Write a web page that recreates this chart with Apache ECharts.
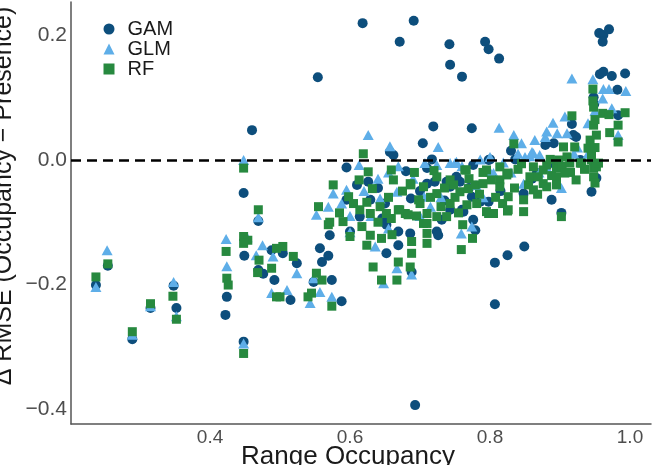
<!DOCTYPE html>
<html>
<head>
<meta charset="utf-8">
<script src="https://cdn.jsdelivr.net/npm/echarts@6/dist/echarts.min.js"></script>
<style>
html,body{margin:0;padding:0;background:#fff;}
#chart{width:654px;height:465px;}
</style>
</head>
<body>
<div id="chart"></div>
<script>
const seriesNames = ['GAM', 'GLM', 'RF'];
const xTicks = [0.4, 0.6, 0.8, 1.0];
const yTicks = [-0.4, -0.2, 0.0, 0.2];

const gam = [
[0.237,-0.201],[0.254,-0.170],[0.289,-0.288],[0.315,-0.238],[0.348,-0.202],[0.352,-0.238],
[0.424,-0.220],[0.422,-0.249],[0.448,-0.053],[0.449,-0.154],[0.448,-0.292],[0.460,0.048],
[0.469,-0.098],[0.469,-0.177],[0.476,-0.183],[0.488,-0.145],[0.492,-0.193],
[0.504,-0.150],[0.524,-0.166],[0.515,-0.225],
[0.554,0.133],[0.557,-0.142],[0.569,-0.154],[0.560,-0.164],[0.548,-0.196],[0.574,-0.193],[0.588,-0.227],[0.571,-0.121],
[0.595,-0.012],[0.595,-0.064],[0.614,-0.091],[0.629,-0.064],[0.626,-0.035],[0.618,0.220],[0.600,-0.115],[0.640,-0.045],[0.610,-0.040],[0.650,-0.070],
[0.646,-0.094],[0.652,-0.104],[0.652,-0.150],[0.657,0.013],[0.662,0.008],[0.671,0.190],
[0.669,-0.115],[0.686,-0.118],[0.669,-0.137],[0.687,-0.062],[0.680,-0.018],[0.688,-0.180],
[0.691,0.224],[0.693,-0.394],[0.700,-0.050],[0.704,0.027],[0.710,-0.013],[0.717,0.001],[0.719,0.054],[0.724,-0.115],[0.726,-0.121],
[0.710,-0.038],[0.721,-0.035],[0.731,-0.096],[0.735,-0.065],
[0.738,-0.035],[0.743,-0.080],[0.742,0.186],[0.743,0.153],[0.760,0.134],[0.760,-0.080],[0.757,-0.035],[0.752,-0.027],[0.743,-0.043],
[0.774,0.051],[0.776,-0.008],[0.779,-0.113],[0.774,-0.059],[0.762,-0.083],[0.770,-0.045],
[0.786,-0.067],[0.776,-0.096],[0.793,0.190],[0.798,0.178],[0.813,0.163],[0.800,0.001],[0.798,-0.067],[0.798,0.000],[0.815,-0.050],
[0.807,-0.232],[0.807,-0.165],[0.825,-0.153],[0.849,-0.139],[0.836,0.001],[0.830,0.015],[0.848,-0.054],[0.867,-0.021],[0.860,-0.030],
[0.879,0.024],[0.891,0.027],[0.888,-0.064],[0.890,-0.005],[0.902,-0.085],[0.917,0.058],[0.919,0.040],[0.923,0.037],[0.929,0.000],[0.945,-0.051],[0.952,-0.029],
[0.948,0.101],[0.949,0.090],[0.956,0.204],[0.962,0.201],[0.970,0.210],[0.961,0.190],[0.957,0.138],[0.962,0.142],
[0.974,0.135],[0.993,0.139],[0.982,0.113],[0.983,0.072]
];

const glm = [
[0.237,-0.204],[0.253,-0.145],[0.289,-0.281],[0.315,-0.235],[0.348,-0.196],[0.352,-0.251],
[0.423,-0.127],[0.424,-0.171],[0.448,0.000],[0.448,-0.295],[0.453,-0.124],[0.469,-0.092],[0.475,-0.137],[0.466,-0.153],[0.490,-0.155],[0.488,-0.214],
[0.510,-0.209],[0.524,-0.182],[0.543,-0.230],[0.552,-0.088],[0.548,-0.190],[0.557,-0.212],[0.569,-0.075],[0.576,-0.054],[0.574,-0.220],[0.588,-0.070],[0.595,-0.048],[0.600,-0.116],[0.600,-0.090],
[0.613,-0.008],[0.626,0.040],[0.620,-0.050],[0.630,-0.090],[0.640,-0.030],[0.636,-0.139],[0.643,-0.062],[0.648,-0.198],[0.655,-0.110],[0.655,-0.020],[0.657,0.022],[0.667,-0.051],[0.669,-0.010],[0.667,-0.174],[0.688,-0.184],
[0.690,-0.030],[0.700,-0.090],[0.706,-0.059],[0.707,-0.005],[0.715,-0.075],[0.724,-0.008],[0.726,0.021],[0.730,-0.060],
[0.743,-0.005],[0.750,-0.005],[0.752,-0.003],[0.759,-0.118],[0.760,-0.010],[0.774,-0.107],[0.780,-0.040],[0.786,0.001],[0.790,-0.060],[0.800,0.005],[0.800,-0.019],[0.805,-0.021],
[0.813,0.052],[0.819,-0.004],[0.830,-0.020],[0.834,0.040],[0.840,0.010],[0.845,0.027],[0.848,-0.038],[0.850,0.005],[0.857,0.006],[0.860,0.013],[0.862,0.011],[0.864,0.032],[0.870,-0.020],[0.871,0.008],
[0.879,0.037],[0.880,-0.010],[0.881,0.046],[0.890,0.060],[0.896,0.043],[0.902,-0.045],[0.907,0.070],[0.910,0.043],[0.917,0.131],[0.920,0.010],[0.925,0.020],
[0.940,0.059],[0.940,0.010],[0.947,0.130],[0.950,0.079],[0.961,0.099],[0.962,0.114],[0.970,0.114],[0.974,0.083],[0.983,0.040],[0.994,0.111]
];

const rf = [
[0.237,-0.188],[0.254,-0.167],[0.289,-0.276],[0.315,-0.231],[0.347,-0.219],[0.352,-0.256],
[0.423,-0.147],[0.424,-0.190],[0.426,-0.201],[0.448,-0.013],[0.448,-0.311],[0.448,-0.123],[0.454,-0.129],[0.448,-0.134],
[0.469,-0.080],[0.470,-0.161],[0.468,-0.181],[0.495,-0.142],[0.488,-0.174],[0.495,-0.220],
[0.504,-0.139],[0.500,-0.220],[0.519,-0.155],[0.540,-0.220],[0.545,-0.214],[0.552,-0.182],[0.555,-0.075],[0.560,-0.193],
[0.569,-0.104],[0.571,-0.100],[0.574,-0.235],[0.576,-0.040],[0.585,-0.085],[0.590,-0.099],[0.598,-0.059],[0.600,-0.123],[0.605,-0.070],
[0.613,-0.032],[0.614,-0.080],[0.617,-0.107],[0.619,0.010],[0.624,-0.068],[0.626,-0.019],[0.629,-0.086],[0.629,-0.121],[0.624,-0.137],
[0.632,-0.046],[0.633,-0.172],[0.640,-0.100],[0.643,-0.075],[0.645,-0.126],[0.645,-0.193],[0.652,-0.086],[0.655,-0.060],[0.659,-0.016],[0.662,-0.032],[0.659,-0.094],[0.660,-0.120],
[0.667,-0.193],[0.669,-0.080],[0.669,-0.164],[0.671,-0.080],[0.675,-0.050],[0.679,-0.086],[0.683,-0.088],[0.686,-0.172],[0.686,-0.038],[0.687,-0.040],
[0.688,-0.131],[0.688,-0.150],[0.692,-0.020],[0.695,-0.090],[0.698,-0.064],
[0.700,-0.070],[0.705,-0.043],[0.705,-0.102],[0.710,-0.086],[0.710,-0.102],[0.710,-0.118],[0.710,-0.134],[0.715,-0.060],[0.720,-0.017],[0.724,-0.027],[0.724,-0.054],[0.724,-0.091],
[0.730,-0.075],[0.735,-0.045],[0.738,-0.091],[0.743,-0.070],[0.743,-0.032],[0.748,-0.040],[0.750,-0.060],[0.755,-0.085],[0.757,-0.051],[0.764,-0.016],[0.766,-0.016],[0.767,-0.072],[0.769,-0.046],[0.770,-0.030],[0.761,-0.104],[0.759,-0.144],
[0.775,-0.126],[0.779,-0.040],[0.781,-0.070],[0.785,-0.055],[0.790,-0.038],[0.790,-0.020],[0.795,-0.083],[0.795,-0.016],[0.798,-0.086],[0.802,-0.032],[0.805,-0.086],[0.808,-0.060],
[0.814,-0.032],[0.814,-0.043],[0.814,-0.011],[0.818,-0.070],[0.824,-0.024],[0.825,-0.082],[0.826,-0.021],[0.826,-0.059],[0.826,-0.080],[0.834,0.026],[0.835,-0.045],[0.840,-0.015],[0.845,-0.006],
[0.848,-0.064],[0.848,-0.083],[0.855,-0.040],[0.857,-0.027],[0.862,-0.011],[0.862,-0.048],[0.868,-0.055],[0.869,-0.027],[0.876,-0.016],[0.876,-0.038],[0.881,-0.043],[0.881,-0.008],
[0.886,0.001],[0.888,-0.025],[0.895,-0.013],[0.895,-0.027],[0.895,-0.040],[0.898,0.000],[0.902,-0.091],[0.903,-0.010],[0.905,0.021],[0.907,-0.021],[0.910,0.005],[0.914,-0.005],[0.915,-0.020],
[0.917,0.071],[0.921,0.021],[0.923,-0.032],[0.929,-0.005],[0.931,-0.005],[0.935,-0.015],[0.940,0.019],[0.943,0.032],[0.945,0.000],[0.945,0.010],[0.947,0.114],[0.947,0.095],[0.948,0.085],
[0.948,0.056],[0.950,0.065],[0.950,0.020],[0.948,-0.013],[0.948,-0.027],[0.950,-0.037],[0.952,0.040],[0.952,-0.011],[0.955,-0.005],[0.961,0.075],[0.970,0.073],[0.971,0.044],
[0.983,0.056],[0.983,0.029],[0.993,0.076]
];

const colors = { GAM: '#0d4e7c', GLM: '#5eaee8', RF: '#27893f' };
const FONT = '"Liberation Sans", Arial, Helvetica, sans-serif';
const fmt = v => (Math.abs(v) < 1e-9 ? '0.0' : v.toFixed(1).replace('-', '\u2212'));

const chart = echarts.init(document.getElementById('chart'), null, { renderer: 'canvas' });
chart.setOption({
  animation: false,
  backgroundColor: '#ffffff',
  textStyle: { fontFamily: FONT },
  grid: { left: 71, right: 3, top: 2, bottom: 41, containLabel: false },
  legend: {
    orient: 'vertical', left: 98.5, top: 14,
    itemWidth: 11, itemHeight: 11, itemGap: 0,
    data: [
      { name: 'GAM', icon: 'circle' },
      { name: 'GLM', icon: 'triangle' },
      { name: 'RF', icon: 'rect' }
    ],
    textStyle: { fontSize: 20, color: '#1a1a1a', fontFamily: FONT, padding: [0, 0, 0, 8], lineHeight: 18.5 }
  },
  xAxis: {
    type: 'value', min: 0.2014, max: 1.03,
    splitLine: { show: false },
    axisLine: { show: true, onZero: false, lineStyle: { color: '#555', width: 1.5 } },
    axisTick: { show: false },
    axisLabel: { customValues: xTicks, formatter: fmt, fontSize: 19, color: '#4d4d4d', margin: 4, fontFamily: FONT }
  },
  yAxis: {
    type: 'value', min: -0.4244, max: 0.254,
    splitLine: { show: false },
    axisLine: { show: true, onZero: false, lineStyle: { color: '#555', width: 1.5 } },
    axisTick: { show: false },
    axisLabel: { customValues: yTicks, formatter: fmt, fontSize: 21, color: '#4d4d4d', margin: 4, fontFamily: FONT }
  },
  graphic: [
    { type: 'text', x: 348, y: 457, z: 100, style: { text: 'Range Occupancy', font: '26px ' + FONT, fill: '#1a1a1a', textAlign: 'center', textVerticalAlign: 'middle' } },
    { type: 'text', x: 4, y: 196, z: 100, rotation: Math.PI / 2, style: { text: '\u0394 RMSE (Occupancy \u2212 Presence)', font: '25px ' + FONT, fill: '#1a1a1a', textAlign: 'center', textVerticalAlign: 'middle' } }
  ],
  series: [
    { name: 'GAM', type: 'scatter', symbol: 'circle', symbolSize: 10, data: gam, itemStyle: { color: colors.GAM, opacity: 1 }, z: 2 },
    { name: 'GLM', type: 'scatter', symbol: 'triangle', symbolSize: [11, 10], data: glm, itemStyle: { color: colors.GLM, opacity: 1 }, z: 3 },
    { name: 'RF', type: 'scatter', symbol: 'rect', symbolSize: 9, data: rf, itemStyle: { color: colors.RF, opacity: 1 }, z: 4 },
    { name: 'zero', type: 'line', data: [], z: 10, silent: true,
      markLine: { silent: true, symbol: 'none', animation: false, label: { show: false },
        lineStyle: { type: [10, 6], color: '#000', width: 2.5 }, data: [{ yAxis: 0 }] } }
  ]
});
</script>
</body>
</html>
